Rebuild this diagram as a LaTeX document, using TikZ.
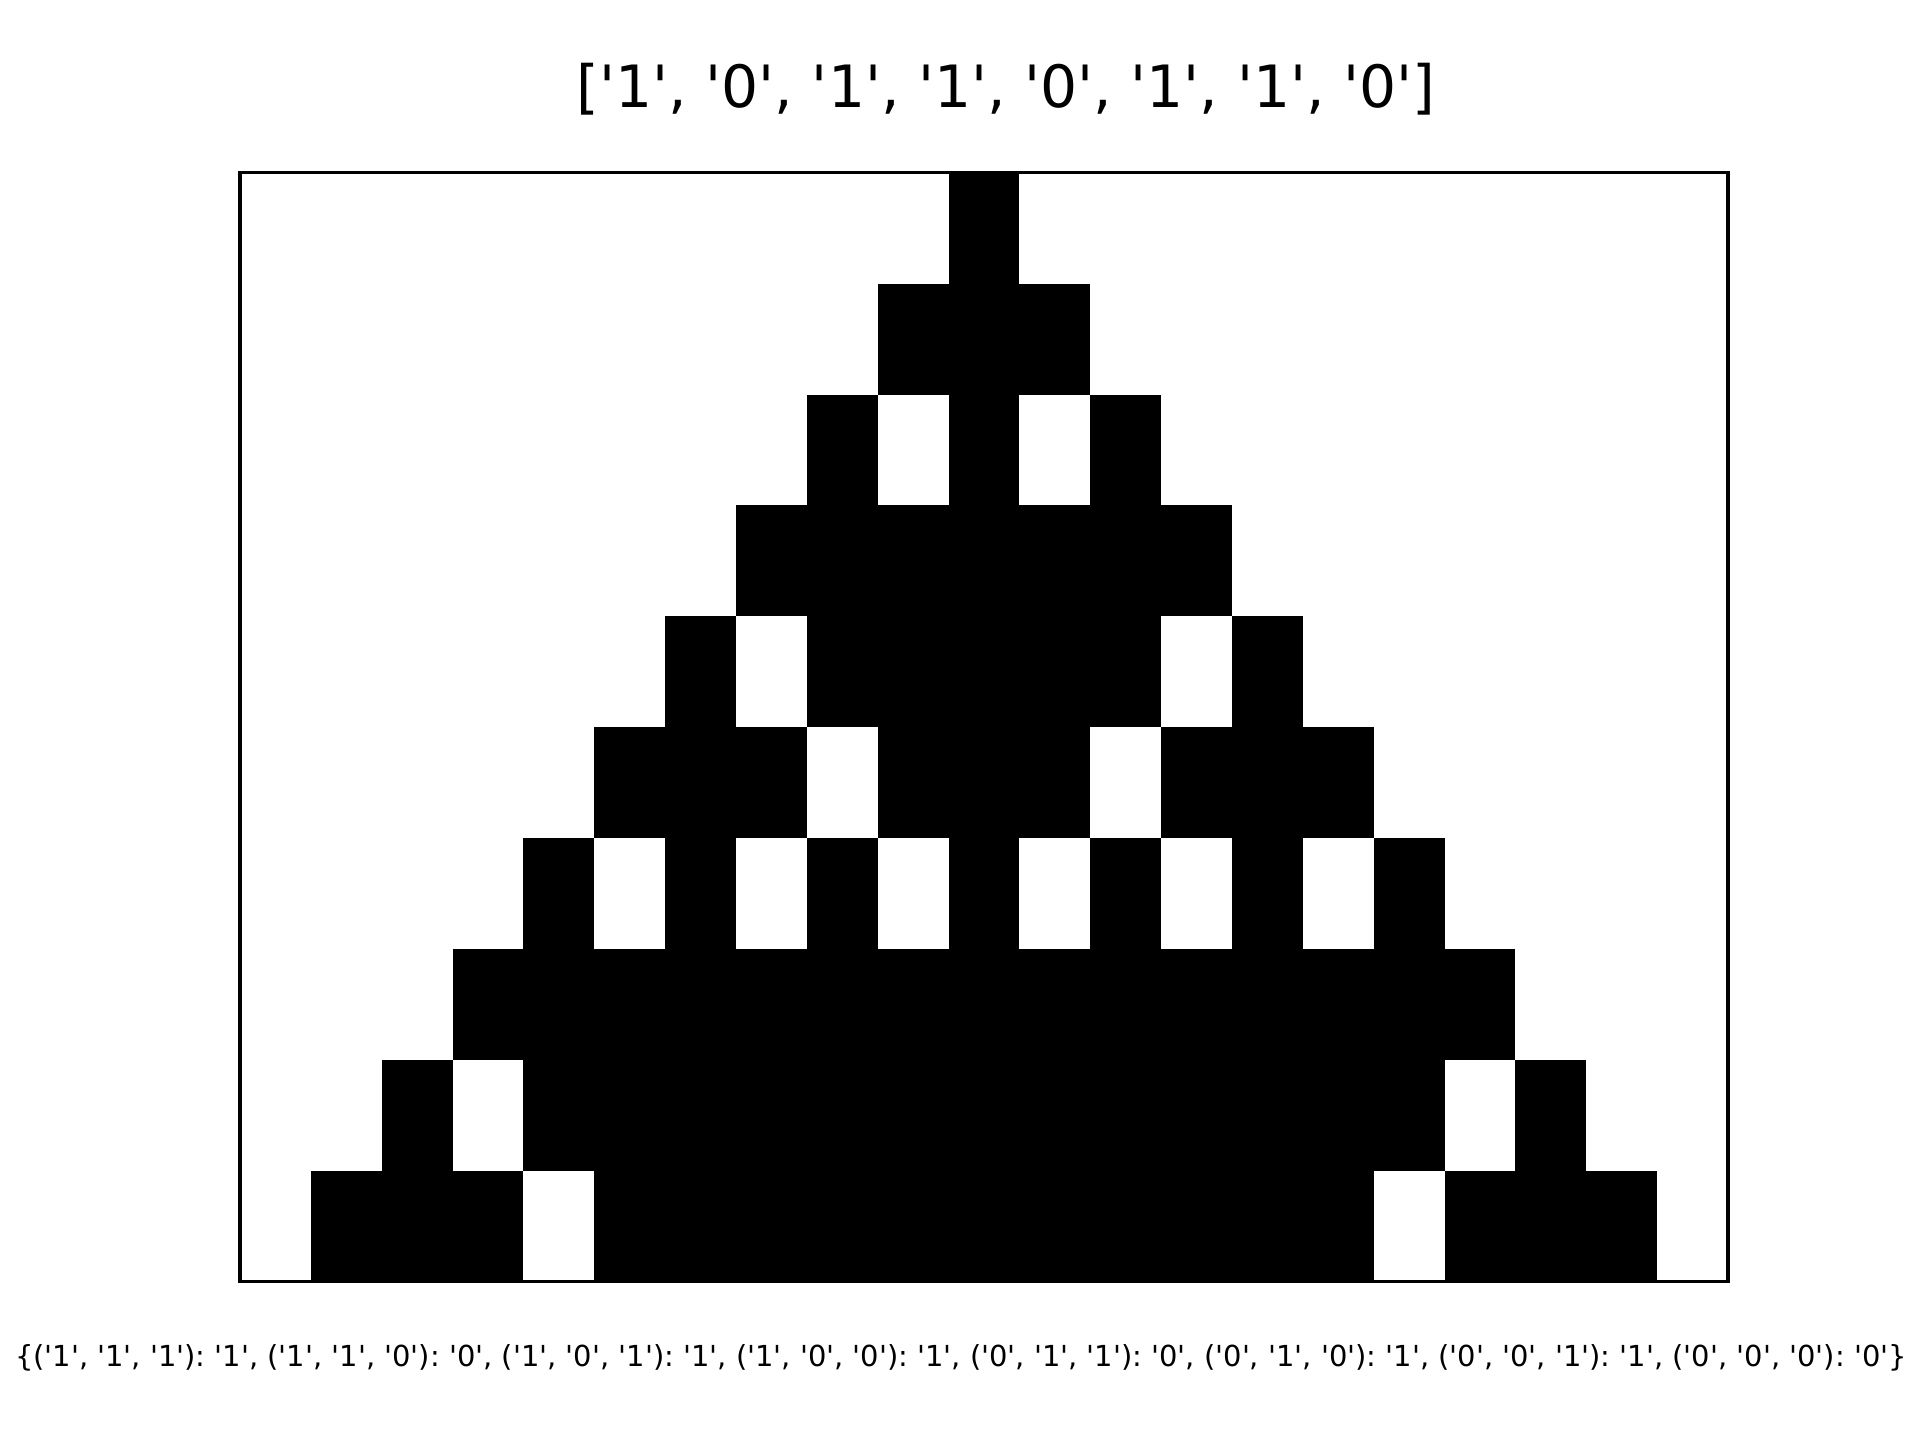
\documentclass[tikz,border=0pt]{standalone}
\usepackage{fontspec}
\setmainfont{DejaVu Sans}[Ligatures=TeXOff]
\usepackage{tikz}
\frenchspacing

\begin{document}
\begin{tikzpicture}[x=0.24pt, y=-0.24pt,
    cell/.style={fill=black, draw=none},
    frame/.style={draw=black, line width=0.8pt}]
    \useasboundingbox (0,0) rectangle (1920,1440);
    % black runs: row/first column/last column
    \foreach \r/\a/\b in {0/10/10, 1/9/11, 2/8/8, 2/10/10, 2/12/12, 3/7/13,
        4/6/6, 4/8/12, 4/14/14, 5/5/7, 5/9/11, 5/13/15,
        6/4/4, 6/6/6, 6/8/8, 6/10/10, 6/12/12, 6/14/14, 6/16/16,
        7/3/17, 8/2/2, 8/4/16, 8/18/18, 9/1/3, 9/5/15, 9/17/19}
        \fill[cell] ({240+\a*70.857},{172.8+\r*110.88}) rectangle ({240+(\b+1)*70.857},{172.8+(\r+1)*110.88});
    \draw[frame] (240,172.8) rectangle (1728,1281.6);
    \node (title) [anchor=base, inner sep=0pt, font=\fontsize{14}{17}\selectfont] at (1006,107)
        {['1', '0', '1', '1', '0', '1', '1', '0']};
    \node (rule) [anchor=base, inner sep=0pt, font=\fontsize{6.95}{9}\selectfont] at (961,1366)
        {\{('1', '1', '1'): '1', ('1', '1', '0'): '0', ('1', '0', '1'): '1', ('1', '0', '0'): '1', ('0', '1', '1'): '0', ('0', '1', '0'): '1', ('0', '0', '1'): '1', ('0', '0', '0'): '0'\}};
\end{tikzpicture}
\end{document}
